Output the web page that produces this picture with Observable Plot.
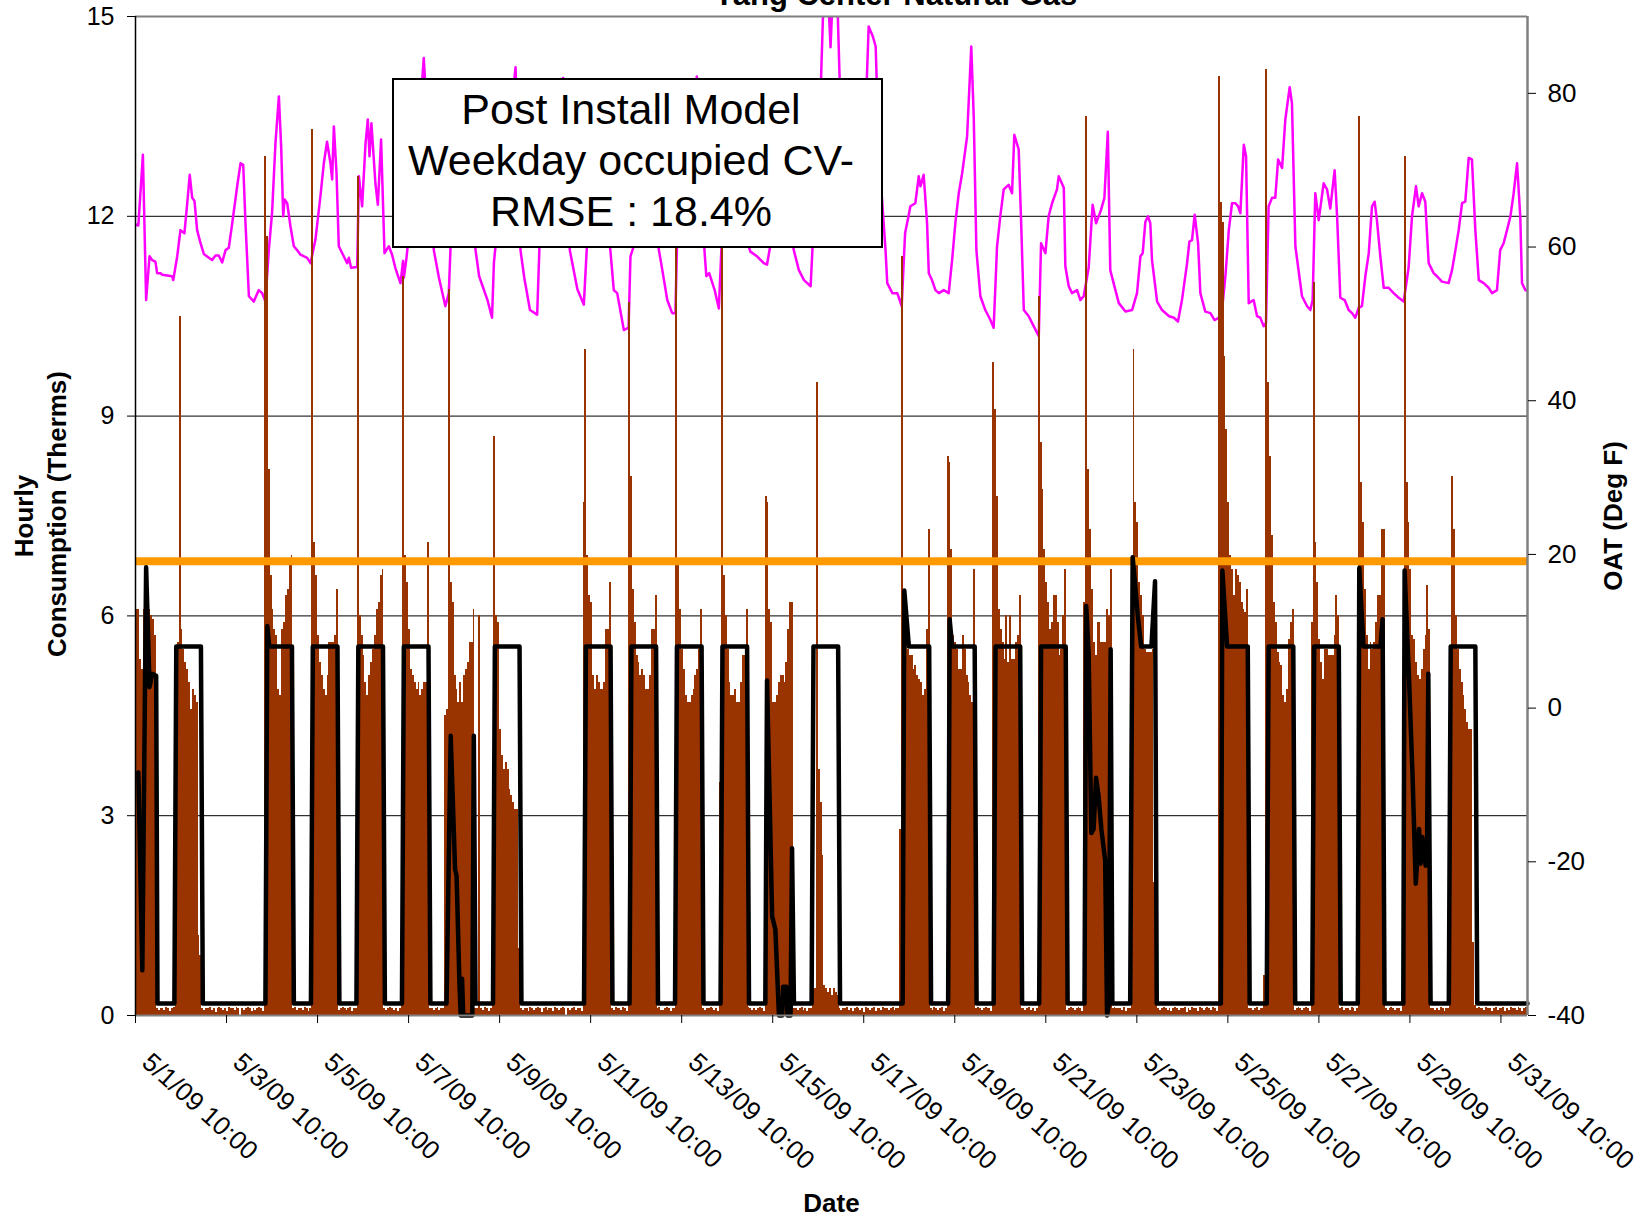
<!DOCTYPE html>
<html>
<head>
<meta charset="utf-8">
<script src="https://cdn.jsdelivr.net/npm/d3@7"></script>
<script src="https://cdn.jsdelivr.net/npm/@observablehq/plot@0.6"></script>
<style>
  html, body { margin: 0; padding: 0; background: #fff; }
  #wrap { position: relative; width: 1642px; height: 1220px; overflow: hidden; font-family: "Liberation Sans", Arial, sans-serif; }
  #note { position: absolute; left: 392px; top: 78px; width: 491px; height: 170px; box-sizing: border-box;
          border: 2px solid #000; background: #fff; text-align: center; font-size: 43px; line-height: 51px;
          padding-top: 3.5px; padding-right: 13px; color: #000; font-family: "Liberation Sans", Arial, sans-serif; }
</style>
</head>
<body>
<div id="wrap"></div>
<script>
// ---------------- DATA ----------------
const chartTitle = "Yang Center Natural Gas";
const leftTitle1 = "Hourly";
const leftTitle2 = "Consumption (Therms)";
const rightTitle = "OAT (Deg F)";
const bottomTitle = "Date";
const noteLines = ["Post Install Model", "Weekday occupied CV-", "RMSE : 18.4%"];

// x = hours since 5/1/09 10:00
const xTickHours = [0, 48, 96, 144, 192, 240, 288, 336, 384, 432, 480, 528, 576, 624, 672, 720];
const xTickLabels = ["5/1/09 10:00", "5/3/09 10:00", "5/5/09 10:00", "5/7/09 10:00", "5/9/09 10:00",
  "5/11/09 10:00", "5/13/09 10:00", "5/15/09 10:00", "5/17/09 10:00", "5/19/09 10:00", "5/21/09 10:00",
  "5/23/09 10:00", "5/25/09 10:00", "5/27/09 10:00", "5/29/09 10:00", "5/31/09 10:00"];
const leftTicks = [0, 3, 6, 9, 12, 15];
const rightTicks = [-40, -20, 0, 20, 40, 60, 80];
const gridLevels = [3, 6, 9, 12];
const thresholdLevel = 6.82;

// hourly gas consumption (therms); first row = 5/1 10:00-23:00, then one row per day (0:00-23:00)
const gasByDay = [
  [6.1,6.1,5.35,5.2,6.1,5.8,5.7,6.1,6.0,5.95,5.7,.1,.08,.1],                                                   // 5/1
  [.1,.08,.12,.1,.06,.1,.12, 5.5,5.6,10.5,5.8,5.5,5.3,5.2,5.0,4.6,4.9,4.8,4.7,1.2,0.9, .1,.08,.1],             // 5/2
  [.1,.12,.08,.1,.05,.1,.12,.1,.08,.1,.06,.12,.1,.1,.08,.12,.1,0,.1,.08,.1,.12,.1,.06],                        // 5/3
  [.1,.08,.1,.12,.1,.06, 12.9,11.7,8.2,6.6,6.1,5.8,5.7,4.9,4.8,5.8,5.9,6.3,6.4,6.8,6.9, .1,.12,.08],          // 5/4
  [.1,.1,.08,.12,.1,.06,.1, 13.3,7.1,6.6,5.7,5.3,5.1,4.9,4.8,5.1,5.6,5.6,5.6,5.7,6.4, .08,.1,.12],            // 5/5
  [.1,.08,.1,.12,.06,.1,.1, 12.6,6.0,5.7,5.4,5.0,4.8,5.1,5.3,5.5,5.7,6.1,6.2,6.6,6.7, .1,.08,.1],             // 5/6
  [.12,.1,.08,.1,.06,.1, 3.4,11.1,6.9,6.5,5.8,5.2,5.1,5.0,4.9,5.0,4.8,4.9,5.0,5.0,7.1, .1,.1,.08],            // 5/7
  [.1,.12,.08,.1,.1, 4.5,4.6,10.9,6.5,6.2,5.1,4.9,4.7,5.0,4.7,5.1,5.2,5.3,5.6,5.6,6.1, .1,.1,6.0],            // 5/8
  [.1,.08,.12,.1,.06,.1, 3.2,8.7,6.0,5.9,4.3,3.9,3.7,3.8,3.7,3.4,3.3,3.2,3.1,3.1,1.0, .1,.08,.1],             // 5/9
  [.1,.06,.12,.1,.08,.1,.12,.1,.05,.1,.12,.08,.1,.1,.06,.12,.1,.08,.1,.12,.1,0,.1,.08],                        // 5/10
  [.1,.12,.08,.1,.1,.06, 7.7,10.0,6.9,6.3,6.2,5.1,4.9,5.1,5.0,4.9,4.9,5.0,5.8,5.8,6.5, .1,.08,.12],           // 5/11
  [.1,.1,.08,.12,.1,.06, 10.7,8.1,6.4,5.9,5.4,5.3,5.1,5.2,5.1,4.9,4.9,5.1,5.8,5.8,6.3, .1,.12,.08],           // 5/12
  [.08,.1,.12,.1,.06,.1,.1, 12.2,6.8,6.1,5.5,5.2,4.8,4.7,4.7,4.8,4.9,5.1,5.2,5.5,6.1, .1,.08,.1],             // 5/13
  [.1,.12,.1,.08,.1,.06, 3.5,12.0,6.6,6.0,5.5,5.0,4.8,4.8,4.9,4.7,4.7,5.0,5.4,5.4,6.1, .12,.1,.08],           // 5/14
  [.1,.08,.1,.12,.1,.06, 7.8,7.7,6.1,5.9,4.7,4.7,4.8,5.0,5.1,5.1,5.0,5.3,5.8,6.2,6.2, .1,.1,.08],             // 5/15
  [.1,.12,.08,.1,.06,.1,.1, 0.4,0.4,9.5,3.7,3.2,2.4,0.45,0.4,0.35,0.4,0.3,0.4,0.35,0.3, .1,.08,.1],           // 5/16
  [.1,.12,.08,.1,.06,.1,.12,.1,.08,.1,.05,.12,.1,.08,.1,.12,.06,.1,.1,.08,.12,.1,.1,.08],                      // 5/17
  [.1,.12,.08,.1,.1, 2.8,11.4,6.4,6.0,5.5,5.4,5.4,5.2,5.25,5.1,5.05,5.0,4.8,4.9,5.8,7.3, .1,.08,.12],         // 5/18
  [.1,.08,.1,.12,.06,.1, 8.4,8.3,7.0,5.7,5.6,5.5,5.2,5.2,5.7,5.5,5.1,5.0,4.8,4.7,6.7, .1,.12,.1],             // 5/19
  [.08,.1,.12,.1,.1,.06, 9.8,9.1,7.8,6.1,5.8,5.6,5.35,6.0,5.3,6.0,5.35,5.35,5.6,5.7,6.3, .1,.1,.08],          // 5/20
  [.1,.12,.08,.1,.06,.1, 10.8,8.6,7.9,7.0,6.5,6.2,5.8,5.9,6.3,6.3,5.9,5.4,5.5,6.0,6.7, .08,.1,.12],           // 5/21
  [.1,.08,.1,.12,.1,.06, 6.2,13.5,8.2,7.3,6.4,5.6,5.4,5.9,5.9,5.6,5.6,5.6,6.1,6.0,6.7, .1,.12,.1],            // 5/22
  [.1,.1,.08,.12,.06,.1,.1, 6.5,10.0,7.7,7.4,6.5,6.3,6.0,5.5,5.45,5.45,5.45,5.5,2.0,.15, .1,.08,.1],          // 5/23
  [.12,.1,.08,.1,.06,.1,.12,.1,.08,.1,.1,.12,.05,.1,.08,.12,.1,.1,.06,.12,.1,.08,.1,.12],                      // 5/24
  [.1,.08,.12,.1,.06, 14.1,12.2,11.9,9.9,8.8,7.7,6.9,6.7,6.3,6.7,6.6,6.5,6.2,6.1,6.05,6.4, .1,.1,.08],        // 5/25
  [.1,.12,.08,.1,.1, 0.6,14.2,9.5,8.4,7.2,6.2,5.9,5.45,5.3,5.25,4.8,4.7,4.9,5.65,5.9,6.1, .08,.1,.12],        // 5/26
  [.1,.08,.1,.12,.1,.06, 5.9,11.0,7.1,6.5,5.65,5.3,5.05,5.5,5.5,5.4,5.4,5.4,5.7,6.3,6.0, .1,.12,.08],         // 5/27
  [.1,.1,.08,.12,.1,.06,.1, 13.5,8.0,7.4,6.4,5.7,5.2,5.6,5.5,5.6,5.9,6.3,6.3,7.3,7.3, .1,.08,.1],             // 5/28
  [.12,.1,.08,.1,.1,.06, 4.1,12.9,8.0,7.4,6.7,5.7,5.65,5.3,5.1,5.05,5.2,5.5,5.7,6.45,5.8, .1,.1,.08],         // 5/29
  [.1,.08,.12,.1,.06,.1,.1, 5.4,8.1,7.3,6.0,5.5,5.2,5.0,4.8,4.6,4.4,4.3,4.3,1.1,.15, .1,.12,.1],              // 5/30
  [.1,.08,.12,.1,.1,.06,.1,.12,.08,.1,.1,.12,.06,.1,.08,.12,.1,.1,.08,.12,.1,.06,.1,.12]                       // 5/31
];

// model prediction (therms): [hour, value] read at each change of the black line
const modelPoints = [
  [1.5,3.65],[3.6,0.68],[5.6,6.73],[7.4,4.93],[8.8,5.13],[10.9,5.1],[11.6,0.18],
  [20.5,0.18],[21.5,5.54],[34.5,5.54],[35.5,0.18],
  [68.5,0.18],[69.5,5.85],[70.5,5.54],[82.5,5.54],[83.5,0.18],
  [92.5,0.18],[93.5,5.54],[106.5,5.54],[107.5,0.18],
  [116.5,0.18],[117.5,5.54],[130.5,5.54],[131.5,0.18],
  [140.5,0.18],[141.5,5.54],[154.5,5.54],[155.5,0.18],
  [164,0.18],[166.2,4.2],[168.5,2.2],[169.3,2.1],[170.8,0.5],[171.5,0],[172.2,0.55],[172.8,0],[177.6,0],[178.4,4.2],[179.3,0.18],
  [188.5,0.18],[189.5,5.54],[202.5,5.54],[203.5,0.18],
  [236.5,0.18],[237.5,5.54],[250.5,5.54],[251.5,0.18],
  [260.5,0.18],[261.5,5.54],[274.5,5.54],[275.5,0.18],
  [284.5,0.18],[285.5,5.54],[298.5,5.54],[299.5,0.18],
  [308.5,0.18],[309.5,5.54],[322.5,5.54],[323.5,0.18],
  [332.1,0.18],[333,5.03],[335.7,1.49],[337.4,1.29],[339.3,0],[341,0],[341.5,0.43],[343.2,0.43],[343.8,0],[345.4,0],[346.2,2.51],[347.2,0.18],
  [356.5,0.18],[357.5,5.54],[370.5,5.54],[371.5,0.18],
  [404.5,0.18],[405.4,6.38],[407.8,5.54],[418.5,5.54],[419.5,0.18],
  [428.5,0.18],[429.3,5.95],[430.6,5.54],[442.5,5.54],[443.5,0.18],
  [452.5,0.18],[453.5,5.54],[466.5,5.54],[467.5,0.18],
  [476.5,0.18],[477.5,5.54],[490.5,5.54],[491.5,0.18],
  [500.4,0.18],[501.3,6.15],[502.6,5.42],[504,2.74],[505.2,2.8],[506.5,3.57],[507.8,3.3],[509.3,2.8],[511.3,2.33],[512.3,0],[513.3,0.18],[514.2,5.5],[515.1,0.18],
  [524.5,0.18],[525.8,6.88],[527,6.5],[528.5,6.0],[530.3,5.54],[535.7,5.54],[537.6,6.52],[538.5,0.18],
  [572.3,0.18],[573.1,6.68],[575.6,5.54],[586.5,5.54],[587.5,0.18],
  [596.5,0.18],[597.5,5.54],[610.5,5.54],[611.5,0.18],
  [620.5,0.18],[621.5,5.54],[634.5,5.54],[635.5,0.18],
  [644.5,0.18],[645.3,6.72],[647.5,5.54],[656.5,5.54],[657.6,5.95],[658.6,0.18],
  [668.5,0.18],[669.2,6.68],[671.6,5.0],[673.3,3.67],[675.1,1.98],[676.8,2.8],[677.6,2.28],[678.5,2.68],[680.3,2.25],[681,2.4],[681.7,5.13],[682.9,0.18],
  [692.5,0.18],[693.5,5.54],[706.5,5.54],[707.5,0.18],[734,0.18]
];

// outside air temperature (deg F): [hour, temp]
const oatPoints = [
  [0.5,62.9],[1.5,62.8],[3.9,72.0],[5.6,53.1],[7.4,58.8],[8.8,58.3],[10.5,58.1],[11.4,56.6],[13.2,56.6],[14.0,56.4],[19.3,56.2],[19.9,55.7],
  [22.0,58.8],[23.7,62.2],[25.8,61.8],[27.2,65.5],[28.6,69.4],[29.9,66.4],[31.1,66.0],[32.5,62.2],[34.3,60.5],[36.0,59.1],[38.7,58.6],
  [40.4,58.3],[42.2,58.9],[43.9,58.9],[45.7,58.0],[47.5,59.6],[49.2,59.9],[51.0,63.1],[53.6,67.9],[55.4,70.9],[56.8,70.7],[58.0,63.1],
  [59.8,53.6],[62.4,52.9],[65.0,54.4],[66.8,54.0],[68.5,52.9],[70.3,59.6],[72.0,64.4],[73.8,73.5],[75.6,79.6],[76.8,73.1],[77.9,64.0],
  [78.6,66.2],[80.0,65.7],[81.7,62.7],[83.5,60.1],[85.2,59.6],[87.0,59.0],[90.5,58.6],[92.3,57.9],[94.9,61.0],[97.5,66.6],[99.3,70.9],
  [101.0,73.7],[102.8,70.9],[103.7,68.8],[104.6,75.7],[106.0,69.6],[107.2,60.1],[109.8,58.8],[111.6,57.9],[112.5,58.6],[113.7,57.3],
  [116.9,57.4],[117.8,69.2],[119.5,65.3],[121.3,73.5],[122.5,76.6],[123.4,71.8],[124.4,76.1],[126.5,68.3],[127.8,65.5],[129.5,74.0],
  [131.3,59.2],[133.6,60.1],[135.3,59.0],[137.0,57.3],[139.7,55.3],[141.1,58.2],[141.5,56.0],[142.9,58.6],
  [146,66],[149,74],[152.0,84.6],[154,76],[157.3,59.6],[160,56],[163.4,52.3],[165.2,54.0],[166.2,60.5],[170,68],[174,72],[176,70],
  [179.3,59.6],[181.2,56.2],[185.6,53.1],[188.0,50.8],[189,58],[193,68],[197,75],[200.4,83.4],[203.0,59.6],[205,56],[208.0,51.8],
  [211.8,51.2],[213,60],[218,70],[222,74],[225.5,82.0],[229.0,59.6],[233,54.5],[236.4,52.5],[238,60],[242,69],[246,66],[250.4,59.6],
  [252.2,54.4],[254.0,54.0],[257.5,49.2],[260.0,49.5],[261.0,58.8],[262.7,60.1],[268,70],[272,66],[276.0,59.6],[277.8,57.0],[280.4,53.1],
  [283.0,51.4],[284.7,51.4],[285.5,60],[290,72],[296.0,82.2],[300.0,59.6],[301.0,56.2],[302.5,56.6],[305.4,54.4],[307.6,52.0],[309,60],
  [314,68],[318,70],[323.5,60],[324.2,59.4],[327.7,58.8],[331.3,57.9],[333.0,57.7],[334.6,60],[340,68],[344,65],[347.1,59.6],[349.8,57.0],
  [352.5,55.7],[356.0,54.9],[357.0,60],[360,72],[361.5,82],[363,94],[365,94],[366.5,86],[368,95],[370,93],[371.5,80],[374,66],[378,62],
  [382,64],[384.5,74],[386.6,88.7],[388.8,87.4],[390.3,86.1],[392,72],[395.5,59.6],[396.4,55.3],[399.1,54.0],[401.7,54.0],[404.0,52.3],
  [405.8,61.8],[407.6,64.0],[408.6,65.3],[411.2,65.7],[413.0,69.2],[413.9,67.9],[415.6,69.4],[417.4,63.1],[418.3,56.6],[420.0,55.7],
  [421.8,54.4],[423.6,54.0],[426.2,54.4],[428.8,54.0],[430.6,58.3],[432.3,63.1],[434.1,67.0],[435.9,69.6],[438.5,74.4],[440.7,86.1],
  [442.0,77.0],[443.4,59.6],[445.5,53.6],[448.1,51.8],[450.8,50.5],[452.5,49.5],[454.3,60.1],[456.0,64.0],[457.8,67.5],[460.4,68.1],
  [462.2,67.0],[463.4,74.6],[465.7,72.7],[466.9,64.0],[468.4,51.8],[471.0,51.0],[472.8,50.1],[476.3,48.4],[477.5,60.5],[479.8,59.2],
  [481.5,64.0],[483.3,65.7],[485.9,67.5],[486.8,69.2],[489.5,67.7],[490.3,57.5],[492.1,54.9],[493.8,54.0],[496.5,54.4],[498.2,53.1],
  [500.0,53.6],[502.6,57.3],[504.7,65.5],[506.5,63.1],[509.1,64.8],[510.9,66.4],[512.7,75.0],[514.0,57.0],[516.7,54.4],[518.5,52.7],
  [522.0,51.6],[525.5,51.8],[528.1,54.0],[529.9,58.8],[531.1,59.2],[532.5,63.3],[533.9,64.0],[535.1,63.1],[536.0,58.3],[538.7,52.9],
  [541.3,51.8],[545.0,51.0],[547.6,50.8],[549.7,50.3],[551.8,53.1],[554.5,57.9],[555.7,60.7],[557.1,60.9],[558.5,64.2],[560.3,60.5],
  [561.5,54.0],[564.1,51.6],[566.8,51.4],[569.0,50.5],[571.2,50.8],[573.0,52.0],[574.7,56.2],[576.5,62.2],[578.2,65.7],[580.0,65.7],
  [581.4,65.3],[582.6,64.4],[584.4,73.3],[585.6,71.8],[587.0,52.7],[589.6,53.1],[591.4,51.0],[593.1,50.8],[594.9,49.7],[596.1,50.1],
  [597.5,65.3],[599.3,66.4],[601.0,66.4],[602.5,71.4],[604.6,70.3],[606.3,76.6],[608.6,80.8],[609.8,78.7],[611.6,60.1],[615.1,53.6],
  [617.8,52.3],[619.5,51.8],[620.7,53.1],[622.1,67.0],[623.9,63.5],[626.5,68.3],[628.3,67.5],[630.0,65.0],[632.3,70.0],[633.6,64.0],
  [635.3,53.4],[637.6,53.1],[639.7,51.8],[641.5,51.4],[643.2,50.8],[645.0,52.1],[646.7,52.3],[648.5,56.2],[650.3,59.2],[652.0,65.3],
  [653.4,65.9],[654.6,63.5],[656.4,58.8],[658.2,54.7],[660.8,54.7],[663.4,54.0],[666.1,53.4],[668.7,52.9],[671.3,57.3],[673.1,64.0],
  [675.2,67.9],[676.6,65.3],[678.4,67.0],[680.1,65.9],[681.9,57.9],[684.5,56.6],[686.3,56.2],[688.9,55.5],[692.4,55.3],[694.2,57.0],
  [696.0,59.6],[697.7,62.2],[699.5,65.7],[701.2,65.9],[703.0,71.6],[704.7,71.4],[706.5,62.2],[708.3,55.7],[710.9,55.3],[713.5,54.7],
  [715.3,54.0],[717.9,54.4],[719.6,59.6],[721.4,60.5],[723.2,62.2],[725.0,64.0],[726.7,67.0],[728.5,70.9],[730.2,63.9],[731.1,55.3],
  [732.9,54.4],[734,54.3]
];

// ---------------- BUILD ----------------
const oatMin = -40, oatMax = 90, yMax = 15;
const toLeft = t => (t - oatMin) * yMax / (oatMax - oatMin);
const fromLeft = v => v * (oatMax - oatMin) / yMax + oatMin;

const gas = [];
gasByDay.forEach((row, d) => {
  const start = d === 0 ? 0 : 14 + 24 * (d - 1);
  row.forEach((v, c) => gas.push({i: start + c, v}));
});

const font = "Liberation Sans, Arial, Helvetica, sans-serif";

const chart = Plot.plot({
  width: 1642,
  height: 1220,
  marginLeft: 135,
  marginRight: 115,
  marginTop: 16,
  marginBottom: 205,
  x: {domain: [0, 734]},
  y: {domain: [0, 15]},
  style: {fontFamily: font, fontSize: "25px", color: "#000", background: "#fff"},
  marks: [
    Plot.ruleY(gridLevels, {stroke: "#000", strokeWidth: 1}),
    Plot.line(oatPoints, {x: d => d[0], y: d => toLeft(d[1]), stroke: "#FF00FF", strokeWidth: 2.5, clip: true}),
    Plot.rect(gas, {x1: "i", x2: d => d.i + 1, y1: 0, y2: "v", fill: "#993300", shapeRendering: "crispEdges"}),
    Plot.ruleY([thresholdLevel], {stroke: "#FF9900", strokeWidth: 8}),
    Plot.line(modelPoints, {x: d => d[0], y: d => d[1], stroke: "#000", strokeWidth: 4.5, strokeLinejoin: "round", strokeLinecap: "round"}),
    Plot.ruleY([15], {stroke: "#808080", strokeWidth: 2}),
    Plot.ruleY([0], {stroke: "#808080", strokeWidth: 2}),
    Plot.ruleX([734], {stroke: "#808080", strokeWidth: 2.5}),
    Plot.ruleX([0], {stroke: "#000", strokeWidth: 1.5}),
    Plot.axisY(leftTicks, {anchor: "left", tickSize: 8, tickPadding: 13, fontSize: 25, label: null,
      tickFormat: d => String(d)}),
    Plot.axisY(rightTicks.map(toLeft), {anchor: "right", tickSize: 8, tickPadding: 12, fontSize: 26, label: null,
      tickFormat: d => String(Math.round(fromLeft(d)))}),
    Plot.axisX(xTickHours, {anchor: "bottom", tickSize: 8, tickFormat: () => "", label: null}),
    Plot.text(xTickHours, {x: d => d, text: (d, i) => xTickLabels[i], frameAnchor: "bottom", rotate: 42,
      textAnchor: "start", lineAnchor: "bottom", dx: 5, dy: 49, fontSize: 26}),
    Plot.text([chartTitle], {frameAnchor: "top", textAnchor: "middle", lineAnchor: "bottom", dx: 64, dy: -12, fontSize: 31, fontWeight: "bold"}),
    Plot.text([leftTitle1], {frameAnchor: "left", textAnchor: "middle", rotate: -90, lineAnchor: "bottom", dx: -103, dy: 0, fontSize: 26, fontWeight: "bold"}),
    Plot.text([leftTitle2], {frameAnchor: "left", textAnchor: "middle", rotate: -90, lineAnchor: "bottom", dx: -70, dy: -2, fontSize: 26, fontWeight: "bold"}),
    Plot.text([rightTitle], {frameAnchor: "right", textAnchor: "middle", rotate: -90, lineAnchor: "bottom", dx: 94, dy: 0, fontSize: 26, fontWeight: "bold"}),
    Plot.text([bottomTitle], {frameAnchor: "bottom", textAnchor: "middle", lineAnchor: "bottom", dy: 196, fontSize: 26, fontWeight: "bold"})
  ]
});

const wrap = document.getElementById("wrap");
wrap.appendChild(chart);
const note = document.createElement("div");
note.id = "note";
note.innerHTML = noteLines.map(s => `<div>${s}</div>`).join("");
wrap.appendChild(note);
</script>
</body>
</html>
